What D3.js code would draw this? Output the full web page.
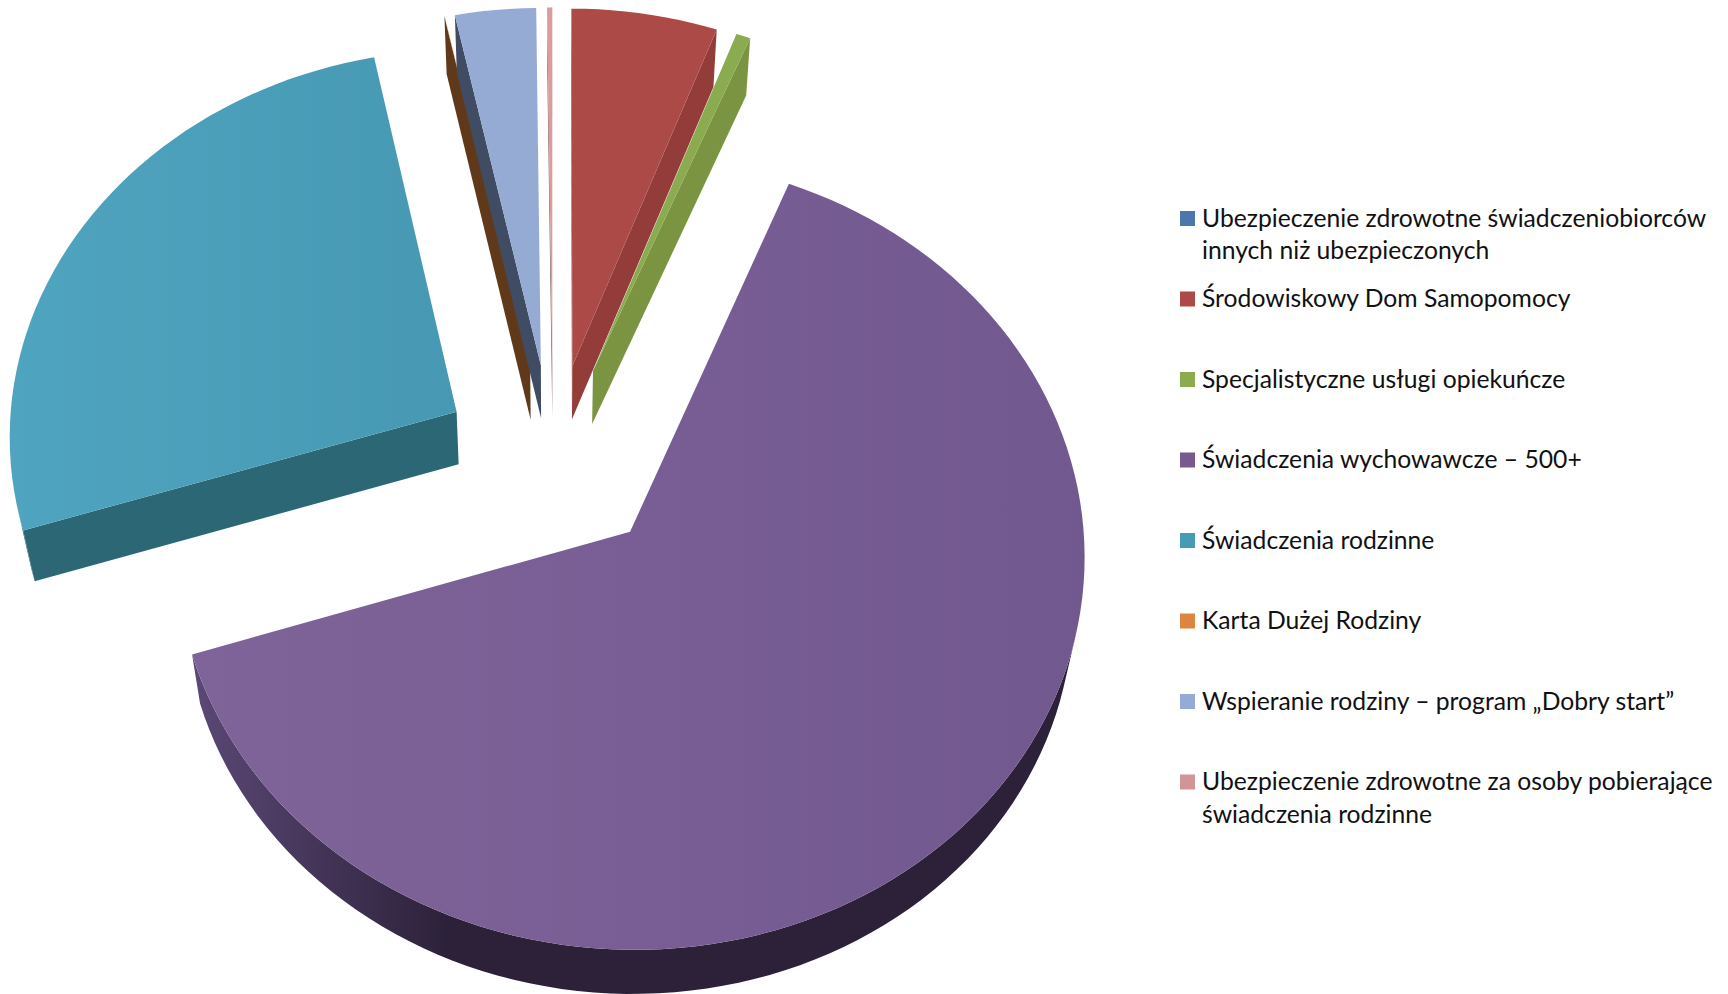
<!DOCTYPE html>
<html>
<head>
<meta charset="utf-8">
<style>
  html, body { margin: 0; background: #fff; overflow: hidden; }
  svg { display: block; }
</style>
<script src="https://d3js.org/d3.v7.min.js"></script>
</head>
<body>
<div class="board"></div>
<script>
var labels = [
  ['Ubezpieczenie zdrowotne świadczeniobiorców', 'innych niż ubezpieczonych'],
  ['Środowiskowy Dom Samopomocy'],
  ['Specjalistyczne usługi opiekuńcze'],
  ['Świadczenia wychowawcze – 500+'],
  ['Świadczenia rodzinne'],
  ['Karta Dużej Rodziny'],
  ['Wspieranie rodziny – program „Dobry start”'],
  ['Ubezpieczenie zdrowotne za osoby pobierające', 'świadczenia rodzinne']
];
var values = [0, 5.6, 0.55, 63.9, 26.63, 0.01, 3.1, 0.2];

var swatchColors = ['#4a78ad', '#ac4a48', '#8bab50', '#77598f', '#459cb4', '#dd8540', '#95abd3', '#d29494'];
var topLeft = ['#4f81bd', '#ac4a48', '#8bab50', '#7f6499', '#4fa4bf', '#f79646', '#96abd4', '#dc9b9d'];
var topRight = ['#4f81bd', '#ac4a48', '#8bab50', '#71588f', '#4799b3', '#f79646', '#96abd4', '#dc9b9d'];
var sideLeft = ['#2f4d71', '#933c3a', '#7a9442', '#5b4876', '#2c6776', '#60391a', '#3f4c63', '#8a5f60'];
var sideColors = ['#2f4d71', '#933c3a', '#7a9442', '#2c2139', '#2c6776', '#60391a', '#3f4c63', '#8a5f60'];

var width = 1728, height = 994;

var svg = d3.select('.board').append('svg')
  .attr('width', width)
  .attr('height', height);

// tilted disc: world units are pie radii, z is the thickness of the pie
var sx = d3.scaleLinear().domain([0, 1]).range([553, 553 + 449]);
var sy = d3.scaleLinear().domain([0, 1]).range([460, 460 - 387]);
var perspective = 0.055;
var explode = 0.25;
var depth = 0.022;
var drop = 53;

var project = function(x, y, low) {
  var d = 1 + perspective * y + (low ? depth : 0);
  return [sx(0) + (sx(x) - sx(0)) / d, sy(0) + (sy(y) - sy(0) + (low ? drop : 0)) / d];
};

var pie = d3.pie().sort(null).value(function(d) { return d; });

var slices = pie(values);

var defs = svg.append('defs');
var line = d3.line();

var gradient = function(id, x0, x1, stops) {
  var grad = defs.append('linearGradient')
    .attr('id', id)
    .attr('gradientUnits', 'userSpaceOnUse')
    .attr('x1', x0).attr('x2', x1).attr('y1', 0).attr('y2', 0);
  stops.forEach(function(s) {
    grad.append('stop').attr('offset', s[0]).attr('stop-color', s[1]);
  });
};

slices.forEach(function(s, i) {
  if (s.value === 0) return;

  var mid = (s.startAngle + s.endAngle) / 2;
  var ox = explode * Math.sin(mid), oy = explode * Math.cos(mid);
  var steps = Math.max(2, Math.ceil((s.endAngle - s.startAngle) / (Math.PI / 90)));
  var outline = [[ox, oy]];
  d3.range(steps + 1).forEach(function(k) {
    var a = s.startAngle + (s.endAngle - s.startAngle) * k / steps;
    outline.push([ox + Math.sin(a), oy + Math.cos(a)]);
  });

  var topPoints = outline.map(function(p) { return project(p[0], p[1]); });
  var xs = d3.extent(topPoints, function(p) { return p[0]; });
  gradient('top' + i, xs[0], xs[1], [[0, topLeft[i]], [1, topRight[i]]]);
  gradient('side' + i, xs[0], xs[1], [[0, sideLeft[i]], [0.29, sideColors[i]], [1, sideColors[i]]]);

  var g = svg.append('g').attr('class', 'slice');

  // walls: only those that face the viewer, neighbours joined in one polygon
  var runs = [], run = null;
  outline.forEach(function(p, k) {
    var q = outline[(k + 1) % outline.length];
    var face = [project(p[0], p[1]), project(q[0], q[1]), project(q[0], q[1], true), project(p[0], p[1], true)];
    if (d3.polygonArea(face) <= 0) { run = null; return; }
    if (!run || k === 1) { run = []; runs.push(run); }
    run.push([p, q]);
    if (k === 0 || k === outline.length - 1) run = null;
  });
  runs.forEach(function(r) {
    var upper = r.map(function(e) { return project(e[0][0], e[0][1]); });
    var lower = r.map(function(e) { return project(e[0][0], e[0][1], true); });
    var last = r[r.length - 1][1];
    upper.push(project(last[0], last[1]));
    lower.push(project(last[0], last[1], true));
    g.append('path')
      .attr('d', line(upper.concat(lower.reverse())) + 'Z')
      .attr('fill', 'url(#side' + i + ')');
  });

  g.append('path')
    .attr('d', line(topPoints) + 'Z')
    .attr('fill', 'url(#top' + i + ')');
});

// legend
var rowY = d3.scaleLinear().domain([0, 7]).range([218.5, 782]);
var legend = svg.append('g').attr('class', 'legend');

labels.forEach(function(lines, i) {
  legend.append('rect')
    .attr('x', 1180).attr('y', rowY(i) - 7.5)
    .attr('width', 15).attr('height', 15)
    .attr('fill', swatchColors[i]);
  lines.forEach(function(t, j) {
    legend.append('text')
      .attr('x', 1202)
      .attr('y', rowY(i) + 8 + j * 32.5)
      .attr('font-family', 'Lato, "Open Sans", sans-serif')
      .attr('font-size', 24.7)
      .attr('fill', '#111')
      .text(t);
  });
});
</script>
</body>
</html>
